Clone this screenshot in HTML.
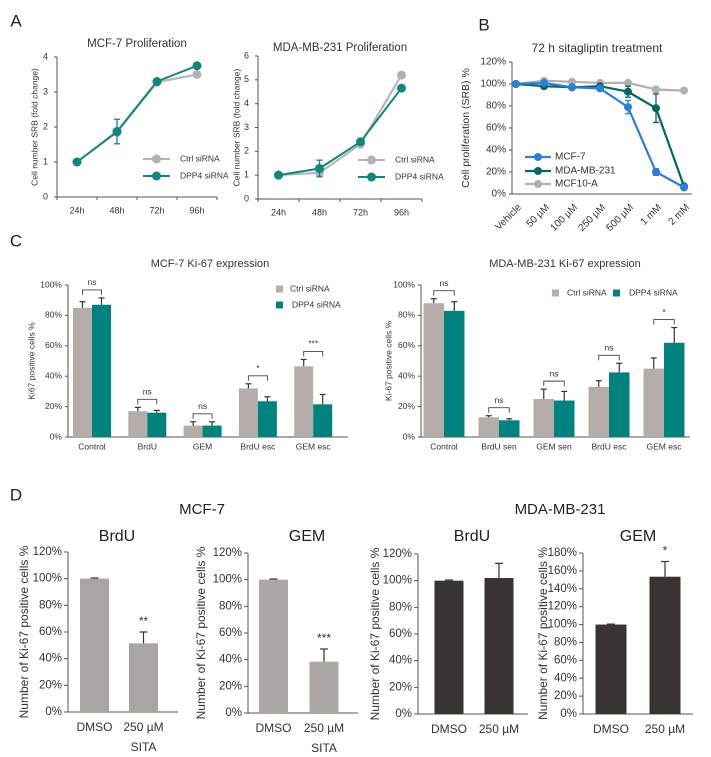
<!DOCTYPE html>
<html><head><meta charset="utf-8">
<style>
html,body{margin:0;padding:0;background:#fff;}
svg{display:block;font-family:"Liberation Sans",sans-serif;}
</style></head>
<body>
<svg id="fig" width="711" height="757" viewBox="0 0 711 757" xmlns="http://www.w3.org/2000/svg"></svg>
<script>
// ---- Panel A data ----
const aCats = ['24h','48h','72h','96h'];
const aMcfCtrl = [1, 1.85, 3.28, 3.5];
const aMcfDpp4 = [1, 1.87, 3.3, 3.75];
const aMcfErr = [0, 0.35, 0, 0];
const aMdaCtrl = [1, 1.1, 2.3, 5.2];
const aMdaDpp4 = [1, 1.28, 2.4, 4.65];
const aMdaErr = [0, 0.35, 0, 0];
const aMcfTicks = [0,1,2,3,4];
const aMdaTicks = [0,1,2,3,4,5,6];
// ---- Panel B data ----
const bCats = ['Vehicle','50 µM','100 µM','250 µM','500 µM','1 mM','2 mM'];
const bMcf7 = [100,101,97,96,79,20,6];
const bMcf7Err = [0,0,0,0,6,3,0];
const bMda = [100,98,97,98,93,78,7];
const bMdaErr = [0,0,2,0,5,13,0];
const bMcf10 = [100,103,102,101,101,95,94];
const bTicks = [0,20,40,60,80,100,120];
// ---- Panel C data ----
const cLeftCats = ['Control','BrdU','GEM','BrdU esc','GEM esc'];
const cLeftCtrl = [85,17,7.5,32,46.5];
const cLeftCtrlErr = [4,2.5,2.5,3,4.5];
const cLeftDpp4 = [87,16,7.5,23.5,21.5];
const cLeftDpp4Err = [4.5,1.5,2.5,3,6.5];
const cLeftSig = ['ns','ns','ns','*','***'];
const cRightCats = ['Control','BrdU sen','GEM sen','BrdU esc','GEM esc'];
const cRightCtrl = [88,13,25,33,45];
const cRightCtrlErr = [3,1,6.5,4,7];
const cRightDpp4 = [83,11,24,42.5,62];
const cRightDpp4Err = [6,1,6,6,10];
const cRightSig = ['ns','ns','ns','ns','*'];
const cTicks = [0,20,40,60,80,100];
// ---- Panel D data ----
const dCats = ['DMSO','250 µM'];
const d1Vals = [100,51.5]; const d1Err = [0.5,8.5];
const d2Vals = [100,38.5]; const d2Err = [0.5,9.5];
const d3Vals = [100,102]; const d3Err = [0.5,11];
const d4Vals = [100,153.5]; const d4Err = [0.5,17];
const dTicks120 = [0,20,40,60,80,100,120];
const dTicks180 = [0,20,40,60,80,100,120,140,160,180];

const svg = document.getElementById('fig');
const NS = 'http://www.w3.org/2000/svg';
function el(tag, attrs, parent){
  const e = document.createElementNS(NS, tag);
  for (const k in attrs) e.setAttribute(k, attrs[k]);
  (parent||svg).appendChild(e);
  return e;
}
function txt(x,y,s,size,anchor,fill,parent,extra){
  const t = el('text',{x:x,y:y,'font-size':size,'text-anchor':anchor||'middle',fill:fill||'#333','dominant-baseline':'middle'},parent);
  if(extra) for(const k in extra) t.setAttribute(k,extra[k]);
  t.textContent = s;
  return t;
}
function grp(name){
  const g = el('g',{});
  
  
  return g;
}

[['A',16,22],['B',484,26],['C',16,242],['D',16,496]].forEach(p=>{
  const t = txt(p[1],p[2],p[0],17,'middle','#222');
  
  
});

function lineChart(o){
  const g = grp(o.name);
  const yS = v => o.y0 - (v - 0) / o.ymax * (o.y0 - o.y1);
  const xS = i => o.x0 + o.step/2 + i*o.step;
  const xEnd = o.x0 + o.step*o.cats.length;
  el('line',{x1:o.x0,y1:o.y0,x2:o.x0,y2:o.y1,stroke:'#555','stroke-width':1},g);
  el('line',{x1:o.x0,y1:o.y0,x2:xEnd,y2:o.y0,stroke:'#555','stroke-width':1},g);
  o.ticks.forEach(v=>{
    el('line',{x1:o.x0-3,y1:yS(v),x2:o.x0,y2:yS(v),stroke:'#555'},g);
    txt(o.x0-9,yS(v),String(v),9,'end','#333',g);
  });
  for(let i=0;i<=o.cats.length;i++) el('line',{x1:o.x0+i*o.step,y1:o.y0,x2:o.x0+i*o.step,y2:o.y0+3,stroke:'#555'},g);
  o.cats.forEach((c,i)=>txt(xS(i),o.y0+14,c,9,'middle','#333',g));
  txt((o.x0+xEnd)/2,o.titleY,o.title,11.5,'middle','#333',g);
  txt(o.labelX,(o.y0+o.y1)/2,'Cell number SRB (fold change)',8.5,'middle','#333',g,{transform:`rotate(-90 ${o.labelX} ${(o.y0+o.y1)/2})`});
  const series = [[o.ctrl,'#b3b3b3',null,'ctrl'],[o.dpp4,'#11867f',o.err,'dpp4']];
  series.forEach(s=>{
    const pts = s[0].map((v,i)=>xS(i)+','+yS(v)).join(' ');
    const pl = el('polyline',{points:pts,fill:'none',stroke:s[1],'stroke-width':2},g);
    
    
    s[0].forEach((v,i)=>{
      if(s[2] && s[2][i]>0){
        const e=s[2][i];
        el('line',{x1:xS(i),y1:yS(v-e),x2:xS(i),y2:yS(v+e),stroke:s[1],'stroke-width':1.3},g);
        el('line',{x1:xS(i)-3,y1:yS(v-e),x2:xS(i)+3,y2:yS(v-e),stroke:s[1],'stroke-width':1.3},g);
        el('line',{x1:xS(i)-3,y1:yS(v+e),x2:xS(i)+3,y2:yS(v+e),stroke:s[1],'stroke-width':1.3},g);
      }
      const c = el('circle',{cx:xS(i),cy:yS(v),r:4.5,fill:s[1]},g);
      
      
    });
  });
  [['Ctrl siRNA','#b3b3b3',o.legY],['DPP4 siRNA','#11867f',o.legY+17]].forEach(l=>{
    el('line',{x1:o.legX,y1:l[2],x2:o.legX+27,y2:l[2],stroke:l[1],'stroke-width':2},g);
    el('circle',{cx:o.legX+13.5,cy:l[2],r:4.5,fill:l[1]},g);
    txt(o.legX+37,l[2],l[0],8.5,'start','#333',g);
  });
}
lineChart({name:'mcf7-proliferation-chart',cats:aCats,ctrl:aMcfCtrl,dpp4:aMcfDpp4,err:aMcfErr,ticks:aMcfTicks,ymax:4,
  x0:57,step:40,y0:197,y1:57,title:'MCF-7 Proliferation',titleY:44,labelX:35,legX:143,legY:159});
lineChart({name:'mdamb231-proliferation-chart',cats:aCats,ctrl:aMdaCtrl,dpp4:aMdaDpp4,err:aMdaErr,ticks:aMdaTicks,ymax:6,
  x0:258,step:41,y0:199,y1:56,title:'MDA-MB-231 Proliferation',titleY:48,labelX:237,legX:358,legY:160});

(function(){
  const g = grp('sitagliptin-dose-chart');
  const x0=512, y0=194, y1=62, step=28;
  const yS = v => y0 - v/120*(y0-y1);
  const xS = i => 516 + i*step;
  el('line',{x1:x0,y1:y0,x2:x0,y2:y1,stroke:'#555'},g);
  el('line',{x1:x0,y1:y0,x2:692,y2:y0,stroke:'#555'},g);
  bTicks.forEach(v=>{
    el('line',{x1:x0-3,y1:yS(v),x2:x0,y2:yS(v),stroke:'#555'},g);
    txt(x0-6,yS(v),v+'%',10,'end','#333',g);
  });
  bCats.forEach((c,i)=>txt(xS(i)+4,206,c,10,'end','#333',g,{transform:`rotate(-45 ${xS(i)+4} 206)`}));
  txt(597,49,'72 h sitagliptin treatment',12,'middle','#333',g);
  txt(466,128,'Cell proliferation (SRB) %',10.5,'middle','#333',g,{transform:'rotate(-90 466 128)'});
  const series=[[bMcf10,null,'#b0b0b0','mcf10a'],[bMda,bMdaErr,'#00695f','mdamb231'],[bMcf7,bMcf7Err,'#2c7fd8','mcf7']];
  series.forEach(s=>{
    el('polyline',{points:s[0].map((v,i)=>xS(i)+','+yS(v)).join(' '),fill:'none',stroke:s[2],'stroke-width':2.2},g);
    s[0].forEach((v,i)=>{
      if(s[1]&&s[1][i]>0){
        const e=s[1][i];
        el('line',{x1:xS(i),y1:yS(v-e),x2:xS(i),y2:yS(v+e),stroke:s[2],'stroke-width':1.3},g);
        el('line',{x1:xS(i)-3,y1:yS(v-e),x2:xS(i)+3,y2:yS(v-e),stroke:s[2],'stroke-width':1.3},g);
        el('line',{x1:xS(i)-3,y1:yS(v+e),x2:xS(i)+3,y2:yS(v+e),stroke:s[2],'stroke-width':1.3},g);
      }
      const c=el('circle',{cx:xS(i),cy:yS(v),r:4,fill:s[2]},g);
      
      
    });
  });
  [['MCF-7','#2c7fd8',157],['MDA-MB-231','#00695f',171],['MCF10-A','#b0b0b0',184]].forEach(l=>{
    el('line',{x1:525,y1:l[2],x2:551,y2:l[2],stroke:l[1],'stroke-width':2.2},g);
    el('circle',{cx:538,cy:l[2],r:4,fill:l[1]},g);
    txt(555,l[2],l[0],10,'start','#333',g);
  });
})();

function groupedBar(o){
  const g = grp(o.name);
  const y0=437, y1=285;
  const yS = v => y0 - v/100*(y0-y1);
  const xS = i => o.c0 + i*o.step;
  el('line',{x1:o.x0,y1:y0,x2:o.x0,y2:y1,stroke:'#555'},g);
  el('line',{x1:o.x0,y1:y0,x2:o.xEnd,y2:y0,stroke:'#555'},g);
  cTicks.forEach(v=>{
    el('line',{x1:o.x0-3,y1:yS(v),x2:o.x0,y2:yS(v),stroke:'#555'},g);
    txt(o.x0-6,yS(v),v+'%',8.5,'end','#333',g);
  });
  o.cats.forEach((c,i)=>txt(xS(i),447,c,8.5,'middle','#333',g));
  txt(o.titleX,264,o.title,11,'middle','#333',g);
  txt(o.labelX,361,o.ylabel,8.5,'middle','#333',g,{transform:`rotate(-90 ${o.labelX} 361)`});
  const w=o.bw;
  o.cats.forEach((c,i)=>{
    [[o.ctrl,o.ctrlErr,'#b5ada9',-w,'ctrl-bar'],[o.dpp4,o.dpp4Err,'#00827f',0,'dpp4-bar']].forEach(s=>{
      const v=s[0][i], e=s[1][i], bx=xS(i)+s[3];
      const r=el('rect',{x:bx,y:yS(v),width:w,height:y0-yS(v),fill:s[2]},g);
      
      
      el('line',{x1:bx+w/2,y1:yS(v),x2:bx+w/2,y2:yS(v+e),stroke:'#333','stroke-width':1.2},g);
      el('line',{x1:bx+w/2-3,y1:yS(v+e),x2:bx+w/2+3,y2:yS(v+e),stroke:'#333','stroke-width':1.2},g);
    });
    const top = Math.max(o.ctrl[i]+o.ctrlErr[i], o.dpp4[i]+o.dpp4Err[i]);
    const by = yS(top)-8;
    el('polyline',{points:`${xS(i)-w/2},${by+5} ${xS(i)-w/2},${by} ${xS(i)+w/2},${by} ${xS(i)+w/2},${by+5}`,fill:'none',stroke:'#444','stroke-width':0.9},g);
    txt(xS(i),by-7,o.sig[i],8.5,'middle','#333',g);
  });
  o.legend.forEach(l=>{
    el('rect',{x:l[0],y:l[1]-3.5,width:7,height:7,fill:l[2]},g);
    txt(l[0]+l[4],l[1],l[3],8.5,'start','#333',g);
  });
}
groupedBar({name:'mcf7-ki67-chart',cats:cLeftCats,ctrl:cLeftCtrl,ctrlErr:cLeftCtrlErr,dpp4:cLeftDpp4,dpp4Err:cLeftDpp4Err,sig:cLeftSig,
  x0:68,xEnd:348,c0:92,step:55.3,bw:19,title:'MCF-7 Ki-67 expression',titleX:210,labelX:32,ylabel:'Ki67 positive cells %',
  legend:[[276,289,'#b5ada9','Ctrl siRNA',14],[276,305,'#00827f','DPP4 siRNA',16]]});
groupedBar({name:'mdamb231-ki67-chart',cats:cRightCats,ctrl:cRightCtrl,ctrlErr:cRightCtrlErr,dpp4:cRightDpp4,dpp4Err:cRightDpp4Err,sig:cRightSig,
  x0:421,xEnd:690,c0:444,step:55,bw:20.5,title:'MDA-MB-231 Ki-67 expression',titleX:565,labelX:389,ylabel:'Ki-67 positive cells %',
  legend:[[552,293,'#b5ada9','Ctrl siRNA',15],[613,293,'#00827f','DPP4 siRNA',16]]});

txt(202,510,'MCF-7',15,'middle','#222');
txt(560,510,'MDA-MB-231',15,'middle','#222');
function dBar(o){
  const g = grp(o.name);
  const yS = v => o.y0 - v/o.ymax*(o.y0-o.y1);
  el('line',{x1:o.x0,y1:o.y0,x2:o.x0,y2:o.y1,stroke:'#555'},g);
  el('line',{x1:o.x0,y1:o.y0,x2:o.x0+o.len,y2:o.y0,stroke:'#555'},g);
  o.ticks.forEach(v=>{
    el('line',{x1:o.x0-4,y1:yS(v),x2:o.x0,y2:yS(v),stroke:'#555'},g);
    txt(o.x0-6,yS(v),v+'%',11.5,'end','#333',g);
  });
  txt(o.titleX,537,o.title,16,'middle','#222',g);
  const my=(o.y0+o.y1)/2;
  txt(o.labelX,my,'Number of Ki-67 positive cells %',12,'middle','#333',g,{transform:`rotate(-90 ${o.labelX} ${my})`});
  o.vals.forEach((v,i)=>{
    const cx=o.cx[i], w=o.bw;
    const r=el('rect',{x:cx-w/2,y:yS(v),width:w,height:o.y0-yS(v),fill:o.color},g);
    
    
    const e=o.err[i];
    el('line',{x1:cx,y1:yS(v),x2:cx,y2:yS(v+e),stroke:'#333','stroke-width':1.2},g);
    el('line',{x1:cx-4,y1:yS(v+e),x2:cx+4,y2:yS(v+e),stroke:'#333','stroke-width':1.2},g);
    txt(cx,o.y0+16,dCats[i],12,'middle','#333',g);
    if(o.sig[i]) txt(cx,yS(v+e)-10,o.sig[i],12,'middle','#333',g);
  });
  if(o.sita) txt(o.cx[1],o.y0+36,'SITA',12,'middle','#333',g);
}
dBar({name:'mcf7-brdu-chart',vals:d1Vals,err:d1Err,ticks:dTicks120,ymax:120,x0:68,len:110,y0:712,y1:552,cx:[94.5,143.5],bw:29,color:'#aaa5a2',title:'BrdU',titleX:117,labelX:25,sig:['','**'],sita:true});
dBar({name:'mcf7-gem-chart',vals:d2Vals,err:d2Err,ticks:dTicks120,ymax:120,x0:248,len:110,y0:713,y1:553,cx:[273.5,324],bw:29,color:'#aaa7a5',title:'GEM',titleX:307,labelX:202,sig:['','***'],sita:true});
dBar({name:'mdamb231-brdu-chart',vals:d3Vals,err:d3Err,ticks:dTicks120,ymax:120,x0:418,len:110,y0:714,y1:554,cx:[449,499],bw:29,color:'#393432',title:'BrdU',titleX:472,labelX:376,sig:['',''],sita:false});
dBar({name:'mdamb231-gem-chart',vals:d4Vals,err:d4Err,ticks:dTicks180,ymax:180,x0:583,len:110,y0:714,y1:553,cx:[611,665],bw:31,color:'#393432',title:'GEM',titleX:638,labelX:544,sig:['','*'],sita:false});
</script>
</body></html>
